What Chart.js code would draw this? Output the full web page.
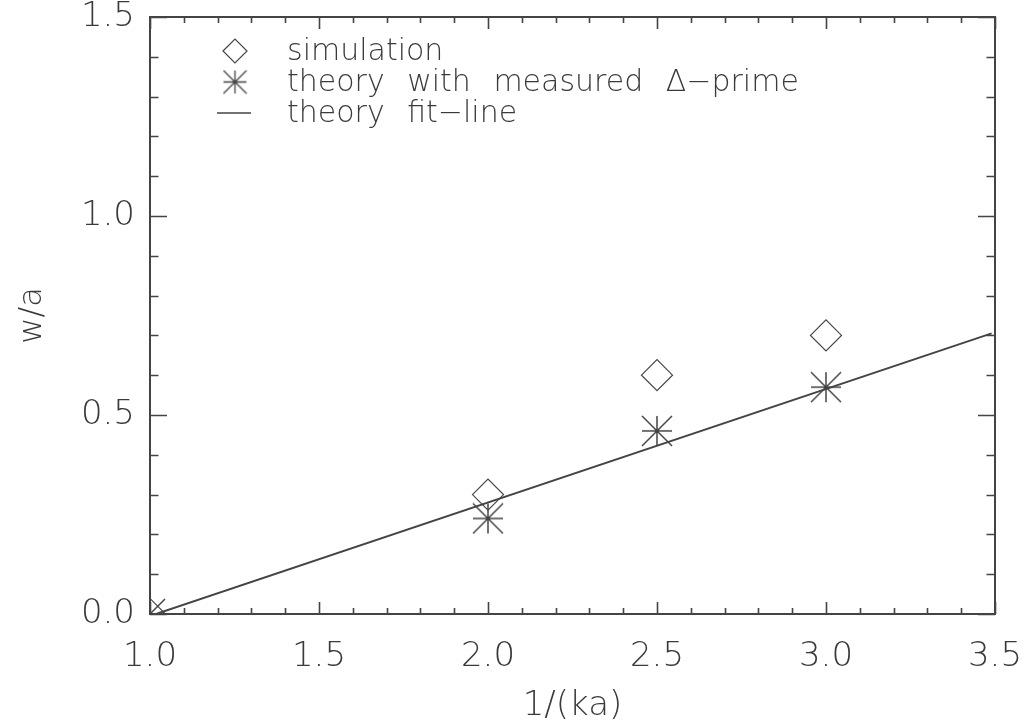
<!DOCTYPE html>
<html>
<head>
<meta charset="utf-8">
<title>w/a vs 1/(ka)</title>
<script src="https://cdn.jsdelivr.net/npm/chart.js@4"></script>
<style>
  html, body { margin: 0; padding: 0; background: #fff; }
</style>
</head>
<body>
<canvas id="plot" width="1028" height="727"></canvas>
<script>
// data
const invKa = [1.0, 2.0, 2.5, 3.0];
const simulation = [0.0, 0.30, 0.60, 0.70];
const theoryMeasured = [0.0, 0.24, 0.46, 0.57];
const fitX = [1.0, 3.49];
const fitY = [-0.005, 0.705];
const xTicks = [1.0, 1.5, 2.0, 2.5, 3.0, 3.5];
const yTicks = [0.0, 0.5, 1.0, 1.5];
const legendLabels = ['simulation', 'theory with measured \u0394\u2212prime', 'theory fit\u2212line'];

const ink = '#444';
const textInk = '#3a3a3a';
const family = '"DejaVu Sans", "Liberation Sans", sans-serif';

// 8-armed asterisk, arms reach the corners of its box
function makeStar(size, lw) {
  const c = document.createElement('canvas');
  c.width = size; c.height = size;
  const g = c.getContext('2d');
  const m = size / 2, r = size / 2 - 1;
  g.strokeStyle = ink;
  g.lineWidth = lw;
  g.beginPath();
  g.moveTo(m - r, m); g.lineTo(m + r, m);
  g.moveTo(m, m - r); g.lineTo(m, m + r);
  g.moveTo(m - r, m - r); g.lineTo(m + r, m + r);
  g.moveTo(m - r, m + r); g.lineTo(m + r, m - r);
  g.stroke();
  return c;
}
const starBig = makeStar(32, 1.5);
const starSmall = makeStar(25, 1.3);

const pts = (xs, ys) => xs.map((x, i) => ({x: x, y: ys[i]}));

// box frame with inward major/minor ticks on all four sides
const frameTicks = {
  id: 'frameTicks',
  afterDatasetsDraw(chart) {
    const {ctx, chartArea: a, scales: {x, y}} = chart;
    ctx.save();
    ctx.strokeStyle = ink;
    ctx.lineWidth = 2;
    ctx.strokeRect(a.left, a.top, a.right - a.left, a.bottom - a.top);
    ctx.beginPath();
    const nx = Math.round((x.max - x.min) / 0.1);
    for (let i = 0; i <= nx; i++) {
      const v = x.min + i * 0.1;
      const px = Math.round(x.getPixelForValue(v)) + 0.5;
      const len = (Math.round(v * 10) % 5 === 0) ? 12 : 6;
      ctx.moveTo(px, a.bottom); ctx.lineTo(px, a.bottom - len);
      ctx.moveTo(px, a.top); ctx.lineTo(px, a.top + len);
    }
    const ny = Math.round((y.max - y.min) / 0.1);
    for (let i = 0; i <= ny; i++) {
      const v = y.min + i * 0.1;
      const py = Math.round(y.getPixelForValue(v)) + 0.5;
      const len = (Math.round(v * 10) % 5 === 0) ? 17 : 8.5;
      ctx.moveTo(a.left, py); ctx.lineTo(a.left + len, py);
      ctx.moveTo(a.right, py); ctx.lineTo(a.right - len, py);
    }
    ctx.lineWidth = 1.6;
    ctx.stroke();
    ctx.restore();
  }
};

// legend in the upper left of the plot
const insideLegend = {
  id: 'insideLegend',
  afterDraw(chart) {
    const {ctx} = chart;
    const symX = 235, textX = 287, rows = [51, 82, 113];
    ctx.save();
    ctx.strokeStyle = ink;
    ctx.fillStyle = 'rgba(0,0,0,0)';
    ctx.lineWidth = 1.2;
    Chart.helpers.drawPoint(ctx, {pointStyle: 'rectRot', radius: 12, borderWidth: 1.2}, symX, rows[0]);
    ctx.drawImage(starSmall, symX - starSmall.width / 2, rows[1] - starSmall.height / 2);
    ctx.lineWidth = 1.6;
    ctx.beginPath();
    ctx.moveTo(217, rows[2]); ctx.lineTo(251, rows[2]);
    ctx.stroke();
    ctx.fillStyle = textInk;
    ctx.font = '200 30px ' + family;
    ctx.wordSpacing = '13px';
    ctx.textBaseline = 'middle';
    legendLabels.forEach((t, i) => ctx.fillText(t, textX, rows[i] + 1));
    ctx.restore();
  }
};

new Chart(document.getElementById('plot'), {
  type: 'scatter',
  data: {
    datasets: [
      {
        label: legendLabels[0],
        data: pts(invKa, simulation),
        pointStyle: 'rectRot',
        pointRadius: 15.5,
        pointBorderWidth: 1.2,
        borderColor: ink,
        backgroundColor: 'rgba(0,0,0,0)',
        clip: 0
      },
      {
        label: legendLabels[1],
        data: pts(invKa, theoryMeasured),
        pointStyle: starBig,
        pointRadius: 16,
        clip: 0
      },
      {
        label: legendLabels[2],
        type: 'line',
        data: pts(fitX, fitY),
        showLine: true,
        pointRadius: 0,
        borderColor: ink,
        borderWidth: 2,
        fill: false,
        clip: 0
      }
    ]
  },
  options: {
    responsive: false,
    animation: false,
    devicePixelRatio: 1,
    layout: {padding: {top: 10, right: 33, left: 0, bottom: 0}},
    plugins: {legend: {display: false}, tooltip: {enabled: false}},
    scales: {
      x: {
        type: 'linear',
        min: 1.0,
        max: 3.5,
        afterBuildTicks: s => { s.ticks = xTicks.map(v => ({value: v})); },
        afterFit: s => { s.height = 113; s.paddingLeft = 0; s.paddingRight = 0; },
        grid: {display: false, drawTicks: false},
        border: {display: false},
        ticks: {
          padding: 23,
          color: textInk,
          font: {family: family, size: 34, weight: '200'},
          maxRotation: 0,
          callback: v => Number(v).toFixed(1)
        },
        title: {
          display: true,
          text: '1/(ka)',
          color: textInk,
          padding: {top: 0, bottom: 0},
          font: {family: family, size: 34, weight: '200'}
        }
      },
      y: {
        type: 'linear',
        min: 0,
        max: 1.5,
        afterBuildTicks: s => { s.ticks = yTicks.map(v => ({value: v})); },
        afterFit: s => { s.width = 150; s.paddingTop = 0; s.paddingBottom = 0; },
        grid: {display: false, drawTicks: false},
        border: {display: false},
        ticks: {
          padding: 15,
          color: textInk,
          font: {family: family, size: 34, weight: '200'},
          callback: v => Number(v).toFixed(1)
        },
        title: {
          display: true,
          text: 'w/a',
          color: textInk,
          padding: {top: 13, bottom: 0},
          font: {family: family, size: 32, weight: '200'}
        }
      }
    }
  },
  plugins: [frameTicks, insideLegend]
});
</script>
</body>
</html>
